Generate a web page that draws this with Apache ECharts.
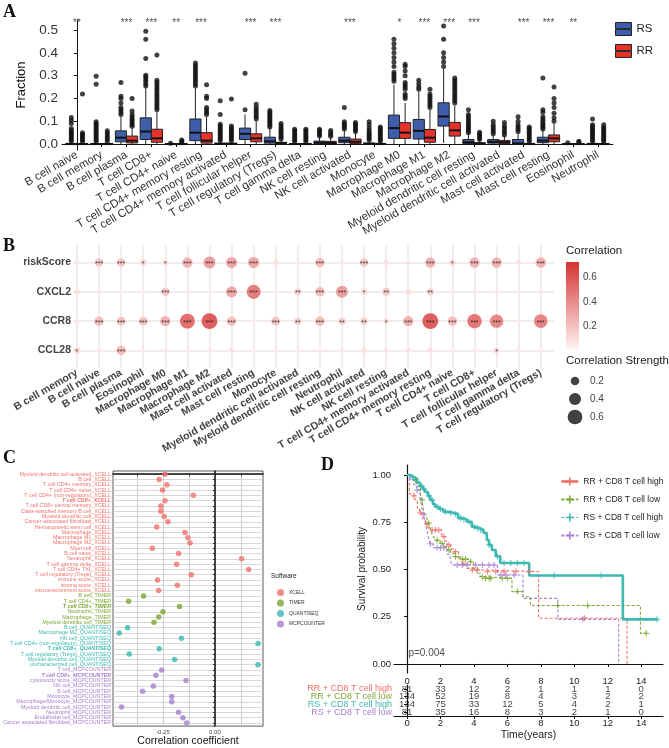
<!DOCTYPE html>
<html><head><meta charset="utf-8">
<script src="https://cdn.jsdelivr.net/npm/echarts@6/dist/echarts.min.js"></script>
<style>html,body{margin:0;padding:0;background:#fff}#c{width:669px;height:748px}</style>
</head><body><div id="c"></div>
<script>
// ---------------- Panel A data ----------------
const aCategories = ['B cell naive','B cell memory','B cell plasma','T cell CD8+','T cell CD4+ naive','T cell CD4+ memory resting','T cell CD4+ memory activated','T cell follicular helper','T cell regulatory (Tregs)','T cell gamma delta','NK cell resting','NK cell activated','Monocyte','Macrophage M0','Macrophage M1','Macrophage M2','Myeloid dendritic cell resting','Myeloid dendritic cell activated','Mast cell activated','Mast cell resting','Eosinophil','Neutrophil'];
const aStars = ['**','','***','***','**','***','','***','***','','','***','','*','***','***','***','','***','***','**',''];
const aYTicks = [0,0.1,0.2,0.3,0.4,0.5];
// [min, Q1, median, Q3, max]
const aRSStats = [[0,0,0,0.003,0.008],[0,0,0,0.002,0.005],[0,0.01,0.028,0.058,0.12],[0,0.02,0.055,0.115,0.25],[0,0,0,0.001,0.002],[0,0.015,0.05,0.11,0.245],[0,0,0.001,0.004,0.01],[0,0.02,0.045,0.07,0.13],[0,0.004,0.012,0.03,0.07],[0,0,0,0.002,0.005],[0,0.001,0.006,0.013,0.03],[0,0.006,0.015,0.03,0.06],[0,0,0.001,0.005,0.012],[0,0.025,0.07,0.127,0.26],[0,0.022,0.058,0.108,0.23],[0.005,0.079,0.121,0.181,0.33],[0,0.002,0.008,0.02,0.045],[0,0.004,0.01,0.02,0.04],[0,0,0.003,0.02,0.048],[0,0.006,0.015,0.03,0.06],[0,0,0,0.001,0.003],[0,0,0,0.003,0.008]];
const aRRStats = [[0,0,0,0.002,0.005],[0,0,0,0.002,0.005],[0,0.005,0.015,0.035,0.07],[0,0.008,0.025,0.065,0.14],[0,0,0,0.001,0.002],[0,0.004,0.015,0.05,0.12],[0,0,0.001,0.004,0.01],[0,0.01,0.025,0.045,0.1],[0,0.002,0.004,0.008,0.018],[0,0,0,0.002,0.005],[0,0.001,0.005,0.012,0.028],[0,0.002,0.01,0.022,0.05],[0,0,0,0.003,0.008],[0,0.025,0.05,0.094,0.18],[0,0.008,0.028,0.064,0.15],[0,0.035,0.06,0.095,0.17],[0,0,0.002,0.006,0.015],[0,0.002,0.008,0.016,0.035],[0,0,0,0.003,0.008],[0,0.01,0.025,0.04,0.09],[0,0,0,0.001,0.003],[0,0,0,0.002,0.006]];
const aRSOutliers = [
 [0.012,0.02,0.028,0.036,0.044,0.052,0.06,0.068,0.09,0.103,0.117],
 [0.01,0.018,0.026,0.034,0.042,0.05,0.058,0.066,0.074,0.082,0.09,0.098,0.262,0.297],
 [0.13,0.14,0.15,0.16,0.18,0.2,0.21,0.27],
 [0.255,0.265,0.275,0.285,0.295,0.302,0.375,0.46,0.495],
 [0.004],
 [0.255,0.265,0.275,0.285,0.295,0.305,0.315,0.325,0.335,0.345,0.355],
 [0.015,0.023,0.031,0.039,0.047,0.055,0.063,0.071,0.079,0.087,0.13,0.19],
 [0.15,0.31],
 [0.075,0.083,0.091,0.099,0.107,0.115,0.123,0.131,0.139,0.147],
 [0.01,0.018,0.026,0.034,0.042,0.05,0.058,0.065],
 [0.035,0.043,0.051,0.059,0.065],
 [0.066,0.074,0.082,0.09,0.098,0.16],
 [0.018,0.026,0.034,0.042,0.05,0.06,0.07,0.085,0.098],
 [0.275,0.285,0.295,0.305,0.315,0.34,0.36,0.38,0.4,0.42,0.44,0.46],
 [0.24,0.25,0.265,0.28],
 [0.34,0.36,0.38,0.4,0.46,0.518],
 [0.05,0.058,0.066,0.074,0.082,0.09,0.1,0.11,0.12,0.13,0.15],
 [0.045,0.055,0.065,0.075,0.085,0.1],
 [0.055,0.065,0.075,0.085,0.1,0.12],
 [0.066,0.074,0.082,0.09,0.1,0.11,0.12,0.14,0.15,0.29],
 [0.006],
 [0.012,0.02,0.028,0.036,0.044,0.052,0.06,0.068,0.076,0.085,0.11]
];
const aRROutliers = [
 [0.01,0.018,0.026,0.034,0.042,0.05,0.22],
 [0.01,0.02,0.03,0.04,0.05,0.058],
 [0.078,0.086,0.094,0.102,0.11,0.12,0.13,0.145,0.2],
 [0.15,0.16,0.17,0.18,0.19,0.2,0.21,0.22,0.23,0.24,0.25,0.26,0.27,0.28,0.39],
 [0.006,0.012,0.018],
 [0.13,0.14,0.15,0.16,0.2,0.21,0.26],
 [0.015,0.023,0.031,0.039,0.047,0.055,0.063,0.071,0.079,0.198],
 [0.11,0.12,0.13,0.14,0.15,0.16,0.175],
 [0.022,0.03,0.038,0.046,0.054,0.062,0.07,0.08,0.09],
 [0.01,0.018,0.026,0.034,0.042,0.05,0.058,0.065],
 [0.034,0.042,0.05,0.06],
 [0.055,0.063,0.071,0.079,0.087,0.095],
 [0.012,0.02,0.028,0.036,0.044,0.052,0.06,0.068,0.075],
 [0.2,0.21,0.22,0.24,0.25,0.26,0.27,0.3,0.32,0.34,0.35],
 [0.16,0.17,0.18,0.19,0.2,0.21,0.22,0.24],
 [0.18,0.19,0.2,0.21,0.22,0.23,0.24,0.25,0.26,0.27,0.28,0.29],
 [0.02,0.028,0.036,0.044,0.052],
 [0.04,0.05,0.06,0.07,0.08,0.095],
 [0.012,0.02,0.028,0.036,0.044,0.052,0.06,0.068,0.075],
 [0.1,0.115,0.135,0.16,0.18,0.2,0.25],
 [0.008,0.012],
 [0.01,0.018,0.026,0.034,0.042,0.05,0.058,0.066,0.074,0.085]
];

// ---------------- Panel B data ----------------
const bCells = ['B cell memory','B cell naive','B cell plasma','Eosinophil','Macrophage M0','Macrophage M1','Macrophage M2','Mast cell activated','Mast cell resting','Monocyte','Myeloid dendritic cell activated','Myeloid dendritic cell resting','Neutrophil','NK cell activated','NK cell resting','T cell CD4+ memory activated','T cell CD4+ memory resting','T cell CD4+ naive','T cell CD8+','T cell follicular helper','T cell gamma delta','T cell regulatory (Tregs)'];
const bGenes = ['riskScore','CXCL2','CCR8','CCL28'];
const bRiskScore = [0.05,0.2,0.2,0.12,0.1,0.3,0.4,0.35,0.35,0.08,0.03,0.25,0.05,0.2,0.08,0.05,0.3,0.12,0.3,0.3,0.08,0.3];
const bRiskStars = ['','***','***','*','*','***','***','***','***','','','***','','***','','','***','*','***','***','','***'];
const bCXCL2 = [0.08,0.05,0.03,0.02,0.2,0.03,0.02,0.35,0.55,0.03,0.15,0.25,0.4,0.12,0.18,0.1,0.15,0.03,0.05,0.05,0.03,0.05];
const bCXCL2Stars = ['','','','','***','','','***','***','','**','***','***','*','**','','**','','','','',''];
const bCCR8 = [0.05,0.25,0.22,0.22,0.3,0.62,0.7,0.25,0.02,0.22,0.15,0.25,0.15,0.15,0.1,0.3,0.7,0.25,0.58,0.5,0.03,0.52];
const bCCR8Stars = ['','***','***','***','***','***','***','***','','***','**','***','**','**','*','***','***','***','***','***','','***'];
const bCCL28 = [0.12,0.05,0.25,0.04,0.05,0.03,0.05,0.08,0.02,0.03,0.03,0.03,0.05,0.08,0.07,0.08,0.08,0.03,0.05,0.1,0.05,0.03];
const bCCL28Stars = ['*','','***','','','','','','','','','','','','','','','','','*','',''];
const bColorTicks = [0.2,0.4,0.6];
const bColorRange = [0.013,0.72];
const bSizeLegend = [0.2,0.4,0.6];

// ---------------- Panel C data ----------------
const cLabels = ['Myeloid dendritic cell activated_XCELL','B cell_XCELL','T cell CD4+ memory_XCELL','T cell CD4+ naive_XCELL','T cell CD4+ (non-regulatory)_XCELL','T cell CD8+_XCELL','T cell CD8+ central memory_XCELL','Class-switched memory B cell_XCELL','Myeloid dendritic cell_XCELL','Cancer associated fibroblast_XCELL','Hematopoietic stem cell_XCELL','Macrophage_XCELL','Macrophage M1_XCELL','Macrophage M2_XCELL','Mast cell_XCELL','B cell naive_XCELL','Neutrophil_XCELL','T cell gamma delta_XCELL','T cell CD4+ Th1_XCELL','T cell regulatory (Tregs)_XCELL','immune score_XCELL','stroma score_XCELL','microenvironment score_XCELL','B cell_TIMER','T cell CD4+_TIMER','T cell CD8+_TIMER','Neutrophil_TIMER','Macrophage_TIMER','Myeloid dendritic cell_TIMER','B cell_QUANTISEQ','Macrophage M2_QUANTISEQ','NK cell_QUANTISEQ','T cell CD4+ (non-regulatory)_QUANTISEQ','T cell CD8+_QUANTISEQ','T cell regulatory (Tregs)_QUANTISEQ','Myeloid dendritic cell_QUANTISEQ','uncharacterized cell_QUANTISEQ','T cell_MCPCOUNTER','T cell CD8+_MCPCOUNTER','cytotoxicity score_MCPCOUNTER','NK cell_MCPCOUNTER','B cell_MCPCOUNTER','Monocyte_MCPCOUNTER','Macrophage/Monocyte_MCPCOUNTER','Myeloid dendritic cell_MCPCOUNTER','Neutrophil_MCPCOUNTER','Endothelial cell_MCPCOUNTER','Cancer associated fibroblast_MCPCOUNTER'];
const cValues = [-0.24,-0.268,-0.231,-0.252,-0.104,-0.24,-0.26,-0.26,-0.244,-0.226,-0.28,-0.144,-0.13,-0.12,-0.301,-0.175,0.128,-0.184,0.162,-0.114,-0.276,-0.181,-0.271,-0.343,-0.415,-0.17,-0.25,-0.27,-0.293,-0.42,-0.46,-0.161,0.207,-0.268,-0.412,-0.194,0.207,-0.256,-0.284,-0.139,-0.296,-0.348,-0.208,-0.208,-0.449,-0.175,-0.154,-0.136];
const cSoftware = ['XCELL','XCELL','XCELL','XCELL','XCELL','XCELL','XCELL','XCELL','XCELL','XCELL','XCELL','XCELL','XCELL','XCELL','XCELL','XCELL','XCELL','XCELL','XCELL','XCELL','XCELL','XCELL','XCELL','TIMER','TIMER','TIMER','TIMER','TIMER','TIMER','QUANTISEQ','QUANTISEQ','QUANTISEQ','QUANTISEQ','QUANTISEQ','QUANTISEQ','QUANTISEQ','QUANTISEQ','MCPCOUNTER','MCPCOUNTER','MCPCOUNTER','MCPCOUNTER','MCPCOUNTER','MCPCOUNTER','MCPCOUNTER','MCPCOUNTER','MCPCOUNTER','MCPCOUNTER','MCPCOUNTER'];
const cSoftwareNames = ['XCELL','TIMER','QUANTISEQ','MCPCOUNTER'];
const cXLabelTicks = [-0.25,0];
const cXGridTicks = [-0.375,-0.25,-0.125,0,0.125];

// ---------------- Panel D data ----------------
const dGroups = ['RR + CD8 T cell high','RR + CD8 T cell low','RS + CD8 T cell high','RS + CD8 T cell low'];
const dRRHigh = [[0,1],[0.14,0.9],[0.3,0.89],[0.48,0.868],[0.62,0.824],[0.75,0.8],[0.88,0.788],[0.98,0.762],[1.1,0.74],[1.25,0.72],[1.38,0.709],[2.08,0.674],[2.25,0.65],[2.38,0.63],[2.6,0.61],[2.77,0.594],[3.07,0.559],[3.3,0.53],[3.57,0.506],[3.77,0.497],[4.57,0.489],[7.86,0.242],[13.15,0]];
const dRRLow = [[0,1],[0.2,0.99],[0.38,0.974],[0.55,0.955],[0.68,0.938],[0.8,0.9],[0.88,0.868],[0.98,0.815],[1.08,0.79],[1.18,0.771],[1.28,0.745],[1.38,0.718],[1.48,0.69],[1.58,0.674],[1.68,0.655],[1.98,0.638],[2.17,0.621],[2.38,0.605],[2.6,0.585],[2.87,0.568],[3.17,0.555],[3.67,0.541],[3.97,0.506],[4.17,0.48],[4.37,0.462],[4.57,0.453],[6.27,0.383],[6.93,0.356],[7.37,0.309],[13.95,0.162],[14.3,0.162]];
const dRSHigh = [[0,1],[0.2,0.99],[0.38,0.98],[0.6,0.96],[0.78,0.94],[0.95,0.925],[1.08,0.91],[1.25,0.89],[1.38,0.868],[1.55,0.845],[1.68,0.832],[1.9,0.82],[2.17,0.805],[2.5,0.8],[2.77,0.794],[3.05,0.772],[3.3,0.765],[3.57,0.753],[3.87,0.726],[4.1,0.718],[4.37,0.709],[4.57,0.693],[4.77,0.656],[4.9,0.63],[5.07,0.603],[5.3,0.57],[5.57,0.534],[7.3,0.468],[12.9,0.236],[14.95,0.236]];
const dRSLow = [[0,1],[0.18,0.974],[0.4,0.95],[0.58,0.92],[0.78,0.877],[0.88,0.83],[0.98,0.79],[1.08,0.75],[1.18,0.71],[1.28,0.67],[1.38,0.635],[1.58,0.615],[2.4,0.58],[2.57,0.559],[2.67,0.524],[5.4,0.471],[6.93,0.347],[9.02,0.236],[12.65,0]];
const dCensorRRHigh = [0.4,0.8,1.2,1.5,1.7,1.9,2.2,2.5,2.9,3.4,3.9,4.2,4.8,5.3,5.8,6.5,7.3,10.6];
const dCensorRRLow = [0.5,0.9,1.3,1.8,2.1,2.5,2.9,3.3,3.5,3.8,4.5,4.7,4.9,5.0,5.7,6.0,6.6,9.0,10.8,14.3];
const dCensorRSHigh = [0.3,0.5,0.9,1.0,1.3,1.5,1.8,2.0,2.3,2.6,2.9,3.2,3.4,3.7,4.0,4.2,4.4,4.9,5.4,5.8,6.2,6.6,7.0,8.8,11.6,14.95];
const dCensorRSLow = [0.6,1.0,1.4,1.8,2.0,2.2,3.0,3.3,3.6,4.1,4.5,4.9,5.2,5.6,5.9,6.4,10.5];
const dTimes = [0,2,4,6,8,10,12,14];
const dRiskRRHigh = [81,33,12,2,1,1,1,0];
const dRiskRRLow = [134,52,19,8,4,3,2,2];
const dRiskRSHigh = [134,75,33,12,5,4,2,1];
const dRiskRSLow = [81,35,16,8,3,2,1,0];
const dYTicks = [0,0.25,0.5,0.75,1];
const dPValue = 'p=0.004';

// ---------------- build ----------------
const FONT = 'Liberation Sans, Arial, Helvetica, sans-serif';
const colRS = '#3E5EAB', colRR = '#E5332C';
const swColors = {XCELL:'#EF716B', TIMER:'#7BA52F', QUANTISEQ:'#3AB8AF', MCPCOUNTER:'#A57FCB'};
const dColors = ['#F0716A','#7DA832','#3EB9B1','#A97FD0'];
const PLUS = 'path://M-1,-5L1,-5L1,-1L5,-1L5,1L1,1L1,5L-1,5L-1,1L-5,1L-5,-1L-1,-1Z';
const range = n => Array.from({length:n}, (_, i) => i);

function boxRender(params, api) {
  const x = api.value(0);
  const lo = api.coord([x, api.value(1)]);
  const q1 = api.coord([x, api.value(2)]);
  const md = api.coord([x, api.value(3)]);
  const q3 = api.coord([x, api.value(4)]);
  const hi = api.coord([x, api.value(5)]);
  const w = api.size([0.45, 0])[0];
  const fill = api.visual('color');
  return {type:'group', children:[
    {type:'line', shape:{x1:lo[0], y1:lo[1], x2:q1[0], y2:q1[1]}, style:{stroke:'#222', lineWidth:1}},
    {type:'line', shape:{x1:q3[0], y1:q3[1], x2:hi[0], y2:hi[1]}, style:{stroke:'#222', lineWidth:1}},
    {type:'rect', shape:{x:q1[0]-w/2, y:q3[1], width:w, height:Math.max(0.5, q1[1]-q3[1])}, style:{fill:fill, stroke:'#222', lineWidth:1}},
    {type:'line', shape:{x1:md[0]-w/2, y1:md[1], x2:md[0]+w/2, y2:md[1]}, style:{stroke:'#111', lineWidth:2}}
  ]};
}
function survAt(curve, t) {
  let s = curve[0][1];
  for (const p of curve) { if (p[0] <= t) s = p[1]; else break; }
  return s;
}
const bubbleSize = v => Math.max(3.5, 19 * Math.sqrt(v));

const xAxes = [], yAxes = [], series = [];
// Grid 0 : A
xAxes.push({gridIndex:0, type:'value', min:-0.6, max:21.6,
  axisLine:{lineStyle:{color:'#111', width:1}},
  axisTick:{customValues:range(22), length:3, lineStyle:{color:'#111'}},
  axisLabel:{customValues:range(22), rotate:30, fontSize:11.5, color:'#333', margin:4, fontFamily:FONT,
    formatter:v => aCategories[Math.round(v)]},
  splitLine:{show:false}});
yAxes.push({gridIndex:0, type:'value', min:-0.026, max:0.544,
  axisLine:{show:true, lineStyle:{color:'#111', width:1}},
  axisTick:{show:true, customValues:aYTicks, length:3, lineStyle:{color:'#111'}},
  axisLabel:{customValues:aYTicks, fontSize:13.5, color:'#333', margin:4, formatter:v => v.toFixed(1)},
  splitLine:{show:false},
  name:'Fraction', nameLocation:'middle', nameGap:30, nameTextStyle:{fontSize:13, color:'#111'}});
series.push({name:'RS', type:'custom', xAxisIndex:0, yAxisIndex:0, renderItem:boxRender, itemStyle:{color:colRS},
  encode:{x:0, y:[1,2,3,4,5]}, data:aRSStats.map((s,i)=>[i-0.225, ...s]), z:2});
series.push({name:'RR', type:'custom', xAxisIndex:0, yAxisIndex:0, renderItem:boxRender, itemStyle:{color:colRR},
  encode:{x:0, y:[1,2,3,4,5]}, data:aRRStats.map((s,i)=>[i+0.225, ...s]), z:2});
series.push({name:'RS outliers', type:'scatter', xAxisIndex:0, yAxisIndex:0, symbolSize:5, itemStyle:{color:'#111'},
  data:aRSOutliers.flatMap((arr,i)=>arr.map(v=>[i-0.225, v])), z:3});
series.push({name:'RR outliers', type:'scatter', xAxisIndex:0, yAxisIndex:0, symbolSize:5, itemStyle:{color:'#111'},
  data:aRROutliers.flatMap((arr,i)=>arr.map(v=>[i+0.225, v])), z:3});
series.push({name:'A stars', type:'scatter', xAxisIndex:0, yAxisIndex:0, symbolSize:1, itemStyle:{color:'rgba(0,0,0,0)'},
  clip:false, silent:true,
  data:aStars.map((s,i)=>[i, 0.53, s]),
  label:{show:true, position:'inside', fontSize:10, color:'#222', formatter:p=>p.data[2]}});

// Grid 1 : B
xAxes.push({gridIndex:1, type:'value', min:-0.18, max:21.6,
  axisLine:{show:false}, axisTick:{show:false, customValues:range(22)},
  axisLabel:{customValues:range(22), rotate:30, fontSize:10.5, fontWeight:'bold', color:'#444', margin:4,
    formatter:v => bCells[Math.round(v)]},
  splitLine:{show:true, lineStyle:{color:'#F1E6E6', width:1.5}}});
yAxes.push({gridIndex:1, type:'value', min:-0.6, max:3.6, inverse:true,
  axisLine:{show:false}, axisTick:{show:false, customValues:range(4)},
  axisLabel:{customValues:range(4), fontSize:10.5, fontWeight:'bold', color:'#444', margin:2,
    formatter:v => bGenes[Math.round(v)]},
  splitLine:{show:true, lineStyle:{color:'#F1E6E6', width:1.5}}});
const bRows = [[bRiskScore,bRiskStars],[bCXCL2,bCXCL2Stars],[bCCR8,bCCR8Stars],[bCCL28,bCCL28Stars]];
const bData = [];
bRows.forEach((row, r) => row[0].forEach((v, c) => bData.push([c, r, v, row[1][c]])));
const bubbleIndex = series.length;
series.push({name:'B bubbles', type:'scatter', xAxisIndex:1, yAxisIndex:1, data:bData,
  symbolSize:val => bubbleSize(val[2]),
  label:{show:true, position:'inside', fontSize:7, color:'#111', offset:[0,1.5], formatter:p=>p.data[3]}});

// Grid 2 : colorbar
xAxes.push({gridIndex:2, type:'value', min:0, max:1, show:false});
yAxes.push({gridIndex:2, type:'value', min:bColorRange[0], max:bColorRange[1], position:'right',
  axisLine:{show:false},
  axisTick:{show:true, inside:true, length:3, customValues:bColorTicks, lineStyle:{color:'#fff'}},
  axisLabel:{customValues:bColorTicks, fontSize:10, color:'#444', margin:4, formatter:v=>v.toFixed(1)},
  splitLine:{show:false}});
series.push({name:'colorbar', type:'custom', xAxisIndex:2, yAxisIndex:2, silent:true,
  data:[[0, bColorRange[0], bColorRange[1]]],
  renderItem:(params, api) => {
    const p0 = api.coord([0, api.value(2)]);
    const p1 = api.coord([1, api.value(1)]);
    return {type:'rect', shape:{x:p0[0], y:p0[1], width:p1[0]-p0[0], height:p1[1]-p0[1]},
      style:{fill:new echarts.graphic.LinearGradient(0,1,0,0,[{offset:0,color:'#FFF6F6'},{offset:1,color:'#D63232'}])}};
  }});

// Grid 3 : size legend
xAxes.push({gridIndex:3, type:'value', min:0, max:1, show:false});
yAxes.push({gridIndex:3, type:'category', data:bSizeLegend.map(v=>v.toFixed(1)), inverse:true, position:'right',
  axisLine:{show:false}, axisTick:{show:false}, axisLabel:{fontSize:10, color:'#444', margin:6}});
series.push({name:'size legend', type:'scatter', xAxisIndex:3, yAxisIndex:3, silent:true,
  data:bSizeLegend.map((v,i)=>[0.5, i, v]), symbolSize:val=>bubbleSize(val[2]), itemStyle:{color:'#111'}});

// Grid 4 : C
const cRich = {};
cSoftwareNames.forEach(s => {
  cRich[s] = {color:swColors[s], fontSize:5.3, fontFamily:FONT};
  cRich[s+'b'] = {color:swColors[s], fontSize:5.3, fontWeight:'bold', fontStyle:'italic', fontFamily:FONT};
});
xAxes.push({gridIndex:4, type:'value', min:-0.49, max:0.231,
  axisLine:{show:true, lineStyle:{color:'#111', width:1.5}},
  axisTick:{show:true, customValues:cXGridTicks, length:2, lineStyle:{color:'#333'}},
  axisLabel:{customValues:cXLabelTicks, fontSize:6, color:'#444', margin:3, formatter:v=>v.toFixed(2)},
  splitLine:{show:true, lineStyle:{color:'#C4C4C4', width:0.8}},
  name:'Correlation coefficient', nameLocation:'middle', nameGap:9, nameTextStyle:{fontSize:10.5, color:'#111'}});
yAxes.push({gridIndex:4, type:'value', min:-0.6, max:cLabels.length-0.4, inverse:true,
  axisLine:{show:true, lineStyle:{color:'#111', width:1.5}},
  axisTick:{show:true, customValues:range(cLabels.length), length:2, lineStyle:{color:'#333'}},
  axisLabel:{customValues:range(cLabels.length), margin:2, rich:cRich,
    formatter:v => { const i = Math.round(v); const key = cSoftware[i] + (cLabels[i].indexOf('CD8+_') >= 0 ? 'b' : ''); return '{' + key + '|' + cLabels[i] + '}'; }},
  splitLine:{show:true, lineStyle:{color:'#CFCFCF', width:0.8}}});
cSoftwareNames.forEach(s => {
  series.push({name:s, type:'scatter', xAxisIndex:4, yAxisIndex:4, symbolSize:5.5, itemStyle:{color:swColors[s]},
    data:cValues.map((v,i)=>[v, i]).filter((d,i)=>cSoftware[i]===s), z:3});
});

// Grid 5 : D KM
xAxes.push({gridIndex:5, type:'value', min:-0.78, max:15.3,
  axisLine:{show:true, lineStyle:{color:'#111', width:1.2}},
  axisTick:{show:true, customValues:dTimes, length:3, lineStyle:{color:'#111'}},
  axisLabel:{customValues:dTimes, fontSize:9.5, color:'#222', margin:3},
  splitLine:{show:false}});
yAxes.push({gridIndex:5, type:'value', min:-0.048, max:1.053,
  axisLine:{show:true, lineStyle:{color:'#111', width:1.2}},
  axisTick:{show:true, customValues:dYTicks, length:3, lineStyle:{color:'#111'}},
  axisLabel:{customValues:dYTicks, fontSize:9.5, color:'#222', margin:3, formatter:v=>v.toFixed(2)},
  splitLine:{show:false},
  name:'Survival probability', nameLocation:'middle', nameGap:27, nameTextStyle:{fontSize:10, color:'#222'}});
const dCurves = [dRRHigh, dRRLow, dRSHigh, dRSLow];
const dCensors = [dCensorRRHigh, dCensorRRLow, dCensorRSHigh, dCensorRSLow];
const dStyles = [{type:[3,2], width:1.1},{type:[3,2], width:1.1},{type:'solid', width:2.6},{type:[3,2], width:1.1}];
dCurves.forEach((curve, g) => {
  series.push({name:dGroups[g], type:'line', xAxisIndex:5, yAxisIndex:5, step:'end', data:curve,
    showSymbol:false, symbol:PLUS, symbolSize:7, color:dColors[g],
    lineStyle:Object.assign({color:dColors[g]}, dStyles[g]), z:g===2?4:3});
  series.push({name:dGroups[g]+' censor', type:'scatter', xAxisIndex:5, yAxisIndex:5, symbol:PLUS, symbolSize:6,
    itemStyle:{color:dColors[g]}, data:dCensors[g].map(t=>[t, survAt(curve, t)]), z:5});
});
series.push({name:'pval', type:'scatter', xAxisIndex:5, yAxisIndex:5, symbolSize:1, itemStyle:{color:'rgba(0,0,0,0)'},
  data:[[0.05, 0.055]], label:{show:true, position:'right', distance:0, fontSize:10, color:'#222', formatter:dPValue}});

// Grid 6 : risk table
const dRisk = [dRiskRRHigh, dRiskRRLow, dRiskRSHigh, dRiskRSLow];
const dRich = {};
dColors.forEach((c,i)=>{ dRich['g'+i] = {color:c, fontSize:9, fontFamily:FONT}; });
xAxes.push({gridIndex:6, type:'value', min:-0.78, max:15.3,
  axisLine:{show:true, lineStyle:{color:'#111', width:1.2}},
  axisTick:{show:true, customValues:dTimes, length:3, lineStyle:{color:'#111'}},
  axisLabel:{customValues:dTimes, fontSize:9.5, color:'#222', margin:2},
  splitLine:{show:false},
  name:'Time(years)', nameLocation:'middle', nameGap:14, nameTextStyle:{fontSize:10.5, color:'#222'}});
yAxes.push({gridIndex:6, type:'category', data:dGroups, inverse:true,
  axisLine:{show:true, lineStyle:{color:'#111', width:1.2}},
  axisTick:{show:true, alignWithLabel:true, length:3, lineStyle:{color:'#111'}},
  axisLabel:{margin:2, rich:dRich, interval:0, formatter:(v,i)=>'{g'+i+'|'+v+'}'}});
const riskData = [];
dRisk.forEach((row,g)=>row.forEach((n,t)=>riskData.push([dTimes[t], g, n])));
series.push({name:'risk', type:'scatter', xAxisIndex:6, yAxisIndex:6, symbolSize:1, itemStyle:{color:'rgba(0,0,0,0)'},
  data:riskData, label:{show:true, position:'inside', fontSize:9.5, color:'#111', formatter:p=>p.data[2]}});

const boxIcon = 'path://M0,0L16,0L16,6.1L0,6.1Z M0,6.9L16,6.9L16,13L0,13Z';
const option = {
  animation:false,
  textStyle:{fontFamily:FONT},
  title:[
    {text:'A', left:3, top:3, padding:0, textStyle:{fontFamily:'Liberation Serif, Times New Roman, serif', fontWeight:'bold', fontSize:18, color:'#111'}},
    {text:'B', left:3, top:237, padding:0, textStyle:{fontFamily:'Liberation Serif, Times New Roman, serif', fontWeight:'bold', fontSize:18, color:'#111'}},
    {text:'C', left:3, top:449, padding:0, textStyle:{fontFamily:'Liberation Serif, Times New Roman, serif', fontWeight:'bold', fontSize:18, color:'#111'}},
    {text:'D', left:321, top:456, padding:0, textStyle:{fontFamily:'Liberation Serif, Times New Roman, serif', fontWeight:'bold', fontSize:18, color:'#111'}},
    {text:'Correlation', left:566, top:245, padding:0, textStyle:{fontSize:11.5, fontWeight:'normal', color:'#222'}},
    {text:'Correlation Strength', left:566, top:355, padding:0, textStyle:{fontSize:11.5, fontWeight:'normal', color:'#222'}},
    {text:'Software', left:271, top:573, padding:0, textStyle:{fontSize:6.5, fontWeight:'normal', color:'#222'}}
  ],
  grid:[
    {left:62, top:20, width:551, height:130},
    {left:73, top:245, width:481, height:123},
    {left:566, top:262, width:13, height:88},
    {left:566, top:372, width:18, height:54},
    {left:113, top:471, width:150, height:256, show:true, borderColor:'#333', borderWidth:0.8, backgroundColor:'#fff'},
    {left:394, top:465, width:269, height:208},
    {left:394, top:685, width:269, height:31}
  ],
  xAxis:xAxes, yAxis:yAxes,
  visualMap:[{type:'continuous', show:false, seriesIndex:bubbleIndex, dimension:2, min:bColorRange[0], max:bColorRange[1],
    inRange:{color:['#FFF0F0','#D63232']}}],
  legend:[
    {left:610, top:17, orient:'vertical', itemWidth:16, itemHeight:13, itemGap:8, selectedMode:false,
      textStyle:{fontSize:11.5, color:'#222'},
      data:[{name:'RS', icon:boxIcon, itemStyle:{color:colRS, borderColor:'#222', borderWidth:1}},
            {name:'RR', icon:boxIcon, itemStyle:{color:colRR, borderColor:'#222', borderWidth:1}}]},
    {left:272, top:584, orient:'vertical', itemWidth:7, itemHeight:7, itemGap:3.5, selectedMode:false, icon:'circle',
      textStyle:{fontSize:5, color:'#333'}, data:cSoftwareNames},
    {left:555, top:472, orient:'vertical', itemWidth:17, itemHeight:10, itemGap:9, itemTextGap:5, selectedMode:false,
      textStyle:{fontSize:8.5, color:'#222'},
      data:dGroups.map((g,i)=>({name:g, lineStyle: i===0 ? {type:'solid', width:2.6} : (i===2 ? {type:[3,2], width:1.1} : undefined)}))}
  ],
  series:series
};
const chart = echarts.init(document.getElementById('c'));
chart.setOption(option);
</script></body></html>
